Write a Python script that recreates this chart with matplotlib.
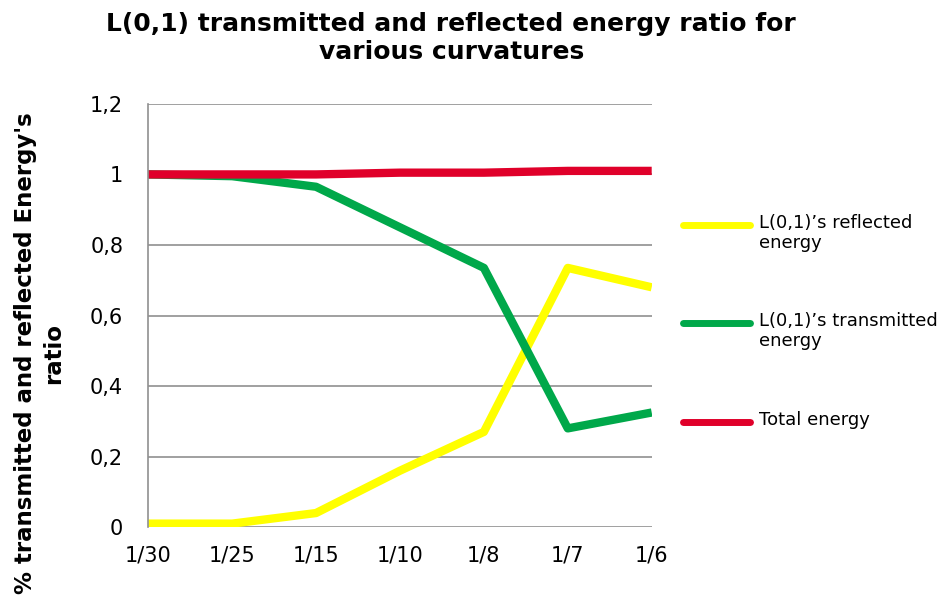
import numpy as np
import matplotlib
matplotlib.use('Agg')
import matplotlib.pyplot as plt
from matplotlib.lines import Line2D

plt.rcParams['font.family'] = ['DejaVu Sans']

# data
curvatures = ['1/30', '1/25', '1/15', '1/10', '1/8', '1/7', '1/6']
reflected = [0.01, 0.01, 0.04, 0.16, 0.27, 0.735, 0.68]
transmitted = [1.0, 0.995, 0.965, 0.85, 0.735, 0.28, 0.325]
total = [1.0, 1.0, 1.0, 1.005, 1.005, 1.01, 1.01]
y_ticks = [0, 0.2, 0.4, 0.6, 0.8, 1.0, 1.2]
y_tick_labels = ['0', '0,2', '0,4', '0,6', '0,8', '1', '1,2']
series_names = ['L(0,1)’s reflected\nenergy', 'L(0,1)’s transmitted\nenergy', 'Total energy']
series_colors = ['#ffff00', '#00a84a', '#e0002a']

fig = plt.figure(figsize=(9.5, 5.97), dpi=100)
ax = fig.add_axes([0.156, 0.117, 0.53, 0.709])

x = np.arange(len(curvatures))
for vals, col in zip([reflected, transmitted, total], series_colors):
    ax.plot(x, vals, color=col, lw=6, solid_capstyle='butt')

ax.set_xlim(0, len(curvatures) - 1)
ax.set_ylim(0, 1.2)
ax.set_xticks(x)
ax.set_xticklabels(curvatures, fontsize=15)
ax.set_yticks(y_ticks)
ax.set_yticklabels(y_tick_labels, fontsize=15)
ax.tick_params(length=0)
ax.tick_params(axis='y', pad=18)
ax.tick_params(axis='x', pad=13)
ax.yaxis.grid(True, color='#909090', lw=1.2)
ax.set_axisbelow(True)
for s in ['top', 'right', 'bottom']:
    ax.spines[s].set_visible(False)
ax.spines['left'].set_color('#909090')
ax.spines['left'].set_linewidth(1.2)

fig.text(0.475, 0.937, 'L(0,1) transmitted and reflected energy ratio for\nvarious curvatures',
         ha='center', va='center', fontsize=18, fontweight='bold', linespacing=1.22)
fig.text(0.042, 0.408, '% transmitted and reflected Energy\'s\nratio', rotation=90,
         ha='center', va='center', multialignment='center', fontsize=16.5, fontweight='bold', linespacing=1.3)

# legend drawn by hand so the handle sits on the first text line
W, H = 950, 597
leg_y = [225, 323, 422]
for name, col, yy in zip(series_names, series_colors, leg_y):
    fy = 1 - yy / H
    fig.add_artist(Line2D([683 / W, 750 / W], [fy, fy], color=col, lw=5,
                          solid_capstyle='round', transform=fig.transFigure))
    fig.text(759 / W, 1 - (yy - 11) / H, name, ha='left', va='top', fontsize=13, linespacing=1.15)

fig.savefig('out.png', dpi=100)
